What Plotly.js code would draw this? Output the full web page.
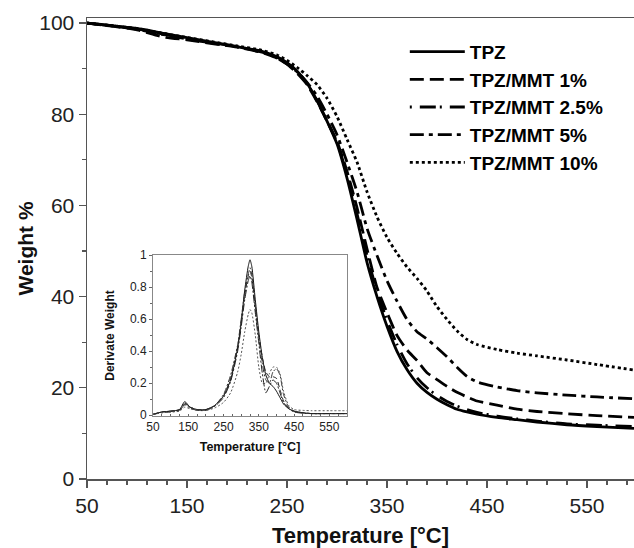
<!DOCTYPE html>
<html>
<head>
<meta charset="utf-8">
<script src="https://cdn.plot.ly/plotly-3.0.1.min.js"></script>
<style>html,body{margin:0;padding:0;background:#fff;}#chart{width:634px;height:548px;}</style>
</head>
<body>
<div id="chart"></div>
<script>
// Main TGA curves: temperature [°C] and weight %
const tempMain = [50,75,100,125,150,175,200,225,240,250,260,270,280,290,300,310,320,330,340,350,360,370,380,390,400,410,420,430,440,460,480,500,530,560,597];
const wTPZ   = [100,99.4,98.8,97.8,96.8,95.8,94.8,93.8,92.6,91.3,89.5,86.8,83,78.5,73.5,66,57,47.5,40,33.5,28,24,21,19,17.5,16.3,15.3,14.7,14.2,13.5,13.0,12.5,11.9,11.5,11.1];
const wMMT1  = [100,99.3,98.5,97.0,96.3,95.5,94.7,93.5,92.3,91.0,89.0,86.5,82.8,78.5,74,67.5,59.5,50.5,42,36.5,31.5,28.3,26,23.3,21.8,20.3,19,18,17.1,16.2,15.3,14.8,14.3,13.9,13.5];
const wMMT25 = [100,99.4,98.7,97.6,96.6,95.7,94.8,93.7,92.5,91.2,89.3,86.7,83,78.6,73.8,66.8,58.2,49,41.2,34.8,29.5,25.3,22.2,20,18.3,17,16,15.2,14.6,13.8,13.2,12.7,12.1,11.8,11.5];
const wMMT5  = [100,99.4,98.6,97.5,96.5,95.6,94.8,93.6,92.3,91.0,89.3,87,84,80,75.5,69.5,63,55,49,43.5,39,35,32.3,30.7,28.8,26.8,24.5,22.5,21.3,20.2,19.4,18.9,18.4,18.0,17.6];
const wMMT10 = [100,99.4,98.8,97.8,96.8,95.9,95,94,93,91.8,90.3,88.5,86.5,83.5,79.5,74.5,69.5,63,57.5,53,49.5,46.5,44,41.2,37.8,35,32.5,30.6,29.5,28.4,27.6,27,26.1,25.1,23.9];

// Inset DTG curves
const tempDTG = [50,75,100,125,140,155,175,200,225,250,270,290,300,310,320,325,330,340,350,360,370,380,390,400,410,420,435,450,475,500,550,600];
const dTPZ   = [0.005,0.02,0.025,0.035,0.085,0.05,0.035,0.035,0.06,0.12,0.22,0.42,0.58,0.78,0.93,0.97,0.93,0.72,0.52,0.36,0.25,0.2,0.18,0.15,0.11,0.07,0.04,0.025,0.015,0.01,0.01,0.01];
const dMMT1  = [0.005,0.02,0.025,0.035,0.07,0.05,0.035,0.035,0.06,0.12,0.23,0.43,0.58,0.75,0.87,0.9,0.86,0.68,0.5,0.36,0.27,0.24,0.24,0.23,0.16,0.09,0.045,0.025,0.015,0.01,0.01,0.01];
const dMMT25 = [0.005,0.015,0.02,0.03,0.075,0.05,0.035,0.035,0.06,0.13,0.25,0.44,0.6,0.77,0.88,0.92,0.88,0.68,0.48,0.32,0.22,0.2,0.27,0.29,0.25,0.13,0.05,0.025,0.015,0.01,0.01,0.01];
const dMMT5  = [0.005,0.02,0.025,0.03,0.065,0.045,0.03,0.03,0.055,0.11,0.21,0.4,0.55,0.72,0.84,0.87,0.83,0.64,0.45,0.26,0.14,0.18,0.22,0.2,0.14,0.08,0.04,0.02,0.012,0.01,0.01,0.01];
const dMMT10 = [0.005,0.015,0.02,0.025,0.05,0.04,0.03,0.03,0.045,0.08,0.14,0.27,0.38,0.52,0.63,0.66,0.64,0.5,0.3,0.2,0.2,0.26,0.3,0.3,0.26,0.15,0.06,0.035,0.03,0.028,0.028,0.028];

const names = ['TPZ','TPZ/MMT 1%','TPZ/MMT 2.5%','TPZ/MMT 5%','TPZ/MMT 10%'];
const dashes = ['solid','14px,6px','2px,8px,16px,4px','14px,5px,4px,5px','3px,3px'];
const mainSeries = [wTPZ,wMMT1,wMMT25,wMMT5,wMMT10];
const dtgSeries = [dTPZ,dMMT1,dMMT25,dMMT5,dMMT10];
const insetColors = ['#111','#222','#333','#222','#555'];
const insetDashes = ['solid','5px,3px','6px,2px,2px,2px','8px,2px,2px,2px','2px,2px'];

const traces = [];
mainSeries.forEach((ys,i)=>{
  traces.push({x:tempMain,y:ys,type:'scatter',mode:'lines',name:names[i],
    line:{color:'#000',width:2.8,dash:dashes[i],shape:'spline',smoothing:0.6},
    xaxis:'x',yaxis:'y',showlegend:true});
});
dtgSeries.forEach((ys,i)=>{
  traces.push({x:tempDTG,y:ys,type:'scatter',mode:'lines',name:names[i],
    line:{color:insetColors[i],width:1,dash:insetDashes[i],shape:'spline',smoothing:0.6},
    xaxis:'x2',yaxis:'y2',showlegend:false});
});

const FF = 'Arial, Liberation Sans, sans-serif';
const axisFont = {family:FF,size:21,color:'#222'};
const layout = {
  width:634,height:548,
  margin:{l:87,r:0,t:18,b:69},
  paper_bgcolor:'#fff',plot_bgcolor:'#fff',
  showlegend:true,
  legend:{x:0.581,y:0.968,xanchor:'left',yanchor:'top',bgcolor:'rgba(0,0,0,0)',
    font:{family:FF,size:19,color:'#000',weight:'bold'},
    tracegroupgap:0,itemwidth:55},
  xaxis:{domain:[0,1],range:[50,597],tick0:50,dtick:100,ticks:'outside',ticklen:7,tickwidth:1.2,
    tickcolor:'#555',showline:true,linecolor:'#555',linewidth:1.5,mirror:true,showgrid:false,zeroline:false,
    tickfont:axisFont,
    minor:{tick0:50,dtick:20,ticks:'outside',ticklen:4,tickcolor:'#555',showgrid:false},
    title:{text:'Temperature [°C]',font:{family:FF,size:22,color:'#111',weight:'bold'},standoff:12}},
  yaxis:{domain:[0,1],range:[0,101.1],tick0:0,dtick:20,ticks:'outside',ticklen:7,tickwidth:1.2,
    tickcolor:'#555',showline:true,linecolor:'#555',linewidth:1.5,showgrid:false,zeroline:false,
    tickfont:axisFont,
    minor:{tick0:0,dtick:10,ticks:'outside',ticklen:4,tickcolor:'#555',showgrid:false},
    title:{text:'Weight %',font:{family:FF,size:21,color:'#111',weight:'bold'},standoff:0}},
  xaxis2:{domain:[0.1207,0.4753],anchor:'y2',range:[50,600],tick0:50,dtick:100,ticks:'inside',ticklen:2,
    tickcolor:'#666',showline:true,linecolor:'#888',linewidth:1,mirror:true,showgrid:false,zeroline:false,
    tickfont:{family:FF,size:12,color:'#222'},
    minor:{tick0:50,dtick:25,ticks:'inside',ticklen:2,tickcolor:'#666',showgrid:false},
    title:{text:'Temperature [°C]',font:{family:FF,size:12.5,color:'#111',weight:'bold'},standoff:8}},
  yaxis2:{domain:[0.1367,0.4859],anchor:'x2',range:[-0.005,1],tick0:0,dtick:0.2,ticks:'outside',ticklen:3,
    tickcolor:'#666',showline:true,linecolor:'#888',linewidth:1,mirror:true,showgrid:false,zeroline:false,
    tickfont:{family:FF,size:12,color:'#222'},
    minor:{tick0:0,dtick:0.1,ticks:'outside',ticklen:2,tickcolor:'#666',showgrid:false},
    title:{text:'Derivate Weight',font:{family:FF,size:12,color:'#111',weight:'bold'},standoff:12}}
};
Plotly.newPlot('chart',traces,layout,{displayModeBar:false,staticPlot:true});
</script>
</body>
</html>
